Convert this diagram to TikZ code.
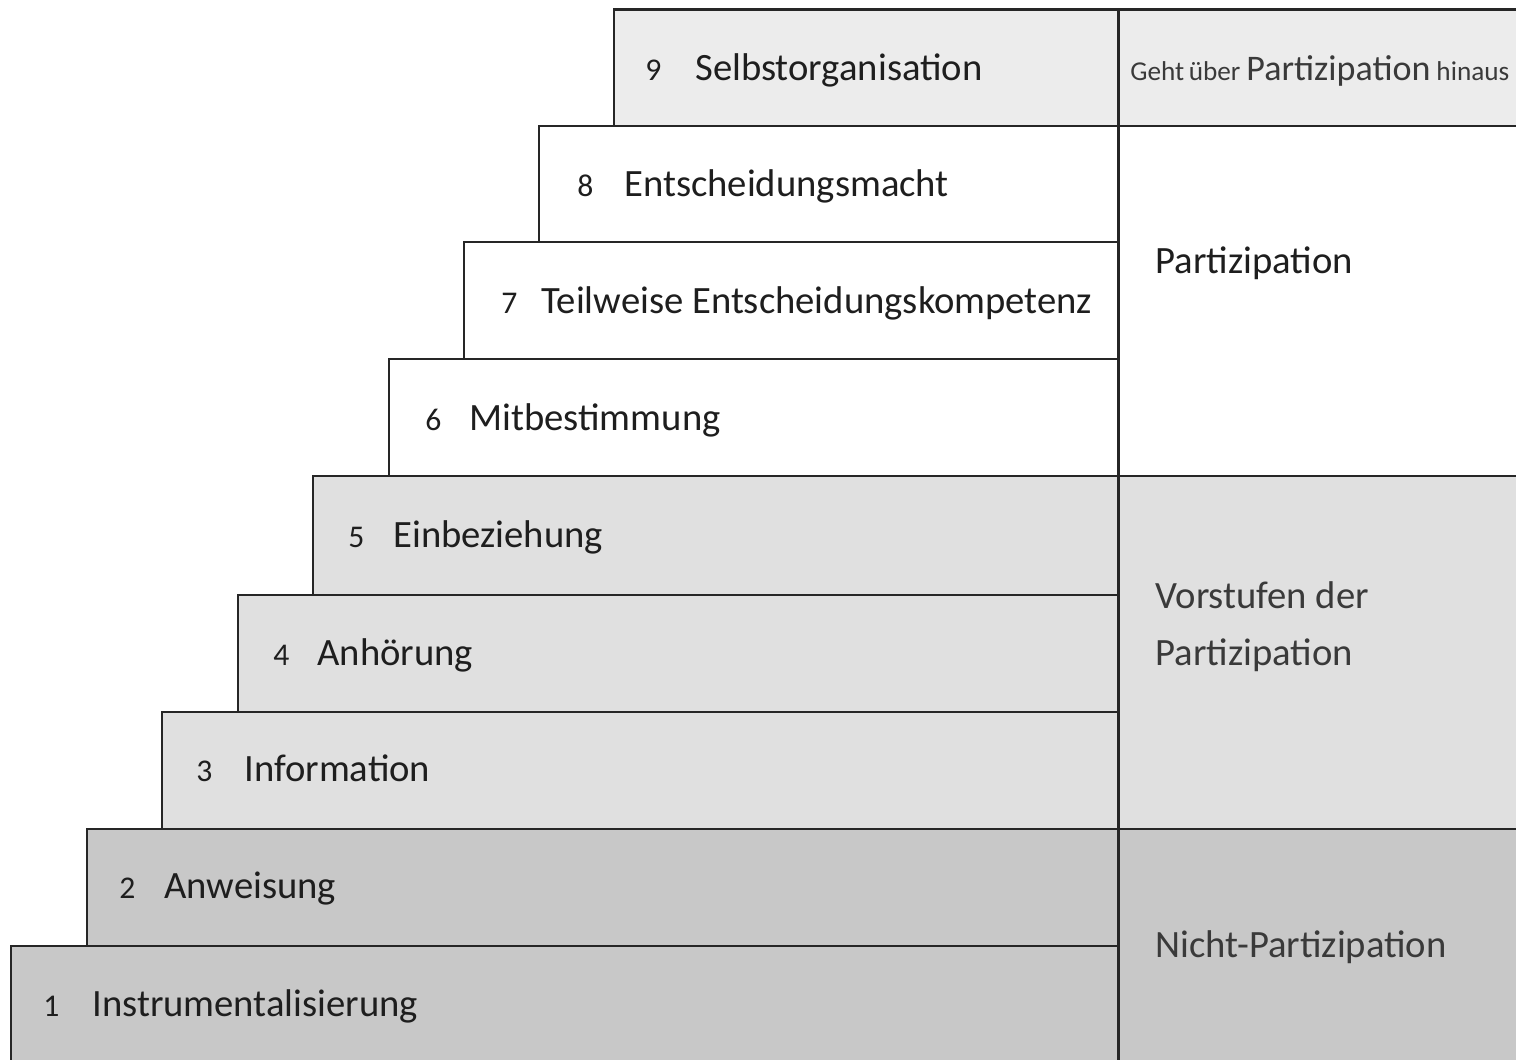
\documentclass[tikz,border=0pt]{standalone}
\usepackage{fontspec}
\setmainfont{Carlito}
\definecolor{txt}{HTML}{1E1E1E}
\definecolor{ltxt}{HTML}{3A3A3A}
\definecolor{lineC}{HTML}{262626}
\definecolor{topgrey}{HTML}{ECECEC}
\definecolor{midgrey}{HTML}{E0E0E0}
\definecolor{darkgrey}{HTML}{C8C8C8}
\newcommand{\smallwd}[1]{{\fontsize{15.5}{18}\selectfont #1}}
\tikzset{
  stepbox/.style={draw=lineC, line width=1.7pt},
  num/.style={anchor=base west, inner sep=0pt, font=\fontsize{18}{20}\selectfont, text=txt},
  lbl/.style={anchor=base west, inner sep=0pt, font=\fontsize{22}{26}\selectfont, text=txt},
  side/.style={anchor=base west, inner sep=0pt, align=left, font=\fontsize{22}{33}\selectfont, text=ltxt},
}
\begin{document}
\begin{tikzpicture}[x=0.02cm, y=-0.02cm]
\useasboundingbox (0,0) rectangle (1516,1060);
\clip (0,0) rectangle (1516,1060);
\fill[white] (0,0) rectangle (1516,1060);
% right column
\filldraw[stepbox, fill=topgrey] (1118,10) rectangle (1540,126);
\filldraw[stepbox, fill=white] (1118,126) rectangle (1540,476);
\filldraw[stepbox, fill=midgrey] (1118,476) rectangle (1540,829);
\filldraw[stepbox, fill=darkgrey] (1118,829) rectangle (1540,1080);
% steps (top to bottom)
\filldraw[stepbox, fill=topgrey]  (614,10)  rectangle (1118,126) coordinate (r9);
\filldraw[stepbox, fill=white]    (539,126) rectangle (1118,242) coordinate (r8);
\filldraw[stepbox, fill=white]    (464,242) rectangle (1118,359) coordinate (r7);
\filldraw[stepbox, fill=white]    (389,359) rectangle (1118,476) coordinate (r6);
\filldraw[stepbox, fill=midgrey]  (313,476) rectangle (1118,595) coordinate (r5);
\filldraw[stepbox, fill=midgrey]  (238,595) rectangle (1118,712) coordinate (r4);
\filldraw[stepbox, fill=midgrey]  (162,712) rectangle (1118,829) coordinate (r3);
\filldraw[stepbox, fill=darkgrey] (87,829)  rectangle (1118,946) coordinate (r2);
\filldraw[stepbox, fill=darkgrey] (11,946)  rectangle (1118,1080) coordinate (r1);
% labels
\node[num] (n9) at (645,81) {9};   \node[lbl] (l9) at (695,81) {Selbstorganisation};
\node[num] (n8) at (577,197) {8};  \node[lbl] (l8) at (624,197) {Entscheidungsmacht};
\node[num] (n7) at (501,314) {7};  \node[lbl] (l7) at (541,314) {Teilweise Entscheidungskompetenz};
\node[num] (n6) at (425,431) {6};  \node[lbl] (l6) at (469,431) {Mitbestimmung};
\node[num] (n5) at (348,548) {5};  \node[lbl] (l5) at (393,548) {Einbeziehung};
\node[num] (n4) at (273,666) {4};  \node[lbl] (l4) at (317,666) {Anhörung};
\node[num] (n3) at (196,782) {3};  \node[lbl] (l3) at (244,782) {Information};
\node[num] (n2) at (119,899) {2};  \node[lbl] (l2) at (164,899) {Anweisung};
\node[num] (n1) at (43,1016) {1};  \node[lbl] (l1) at (92,1016) {Instrumentalisierung};
% side labels
\node[side, font=\fontsize{20.5}{26}\selectfont] (s9) at (1130,81) {\smallwd{Geht\,über}\,Partizipation\,\smallwd{hinaus}};
\node[lbl] (s8) at (1155,274) {Partizipation};
\node[side] (s5) at (1155,666) {Vorstufen der\\Partizipation};
\node[side] (s2) at (1155,957) {Nicht-Partizipation};
\end{tikzpicture}
\end{document}
